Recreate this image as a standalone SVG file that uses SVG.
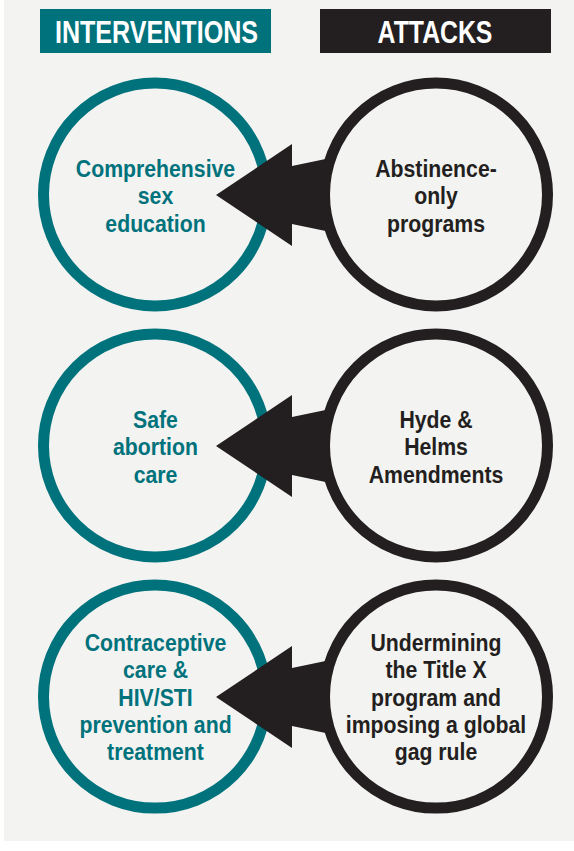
<svg xmlns="http://www.w3.org/2000/svg" width="574" height="851" viewBox="0 0 574 851">
<style>
.bg{fill:#f3f3f1}
.hdr{font-family:"Liberation Sans",Arial,sans-serif;font-weight:bold;font-size:31px;fill:#ffffff;text-anchor:middle}
.teal{fill:none;stroke:#00727c;stroke-width:11}
.dark{fill:none;stroke:#231f20;stroke-width:11}
.lbl{font-family:"Liberation Sans",Arial,sans-serif;font-weight:bold;font-size:24px;text-anchor:middle}
.lt{fill:#00727c}
.lk{fill:#231f20}
.arrow{fill:#231f20}
</style>
<rect x="0" y="0" width="574" height="851" fill="#ffffff"/>
<rect class="bg" x="4" y="0" width="570" height="841"/>

<g id="header-interventions">
<rect x="40" y="9" width="231" height="44" fill="#00727c"/>
<text class="hdr" transform="translate(156.5 0) scale(0.81 1)" x="0" y="43.3">INTERVENTIONS</text>
</g>
<g id="header-attacks">
<rect x="320" y="9" width="231" height="44" fill="#231f20"/>
<text class="hdr" transform="translate(435 0) scale(0.8 1)" x="0" y="43.3">ATTACKS</text>
</g>

<g id="node-comprehensive">
<circle class="teal" cx="155" cy="194.5" r="111.5"/>
<text class="lbl lt" transform="translate(155.5 0) scale(0.885 1)"><tspan x="0" y="176.7">Comprehensive</tspan><tspan x="0" y="204.5">sex</tspan><tspan x="0" y="232.3">education</tspan></text>
</g>
<g id="node-abstinence">
<circle class="dark" cx="436" cy="194.5" r="111.5"/>
<text class="lbl lk" transform="translate(436 0) scale(0.885 1)"><tspan x="0" y="176.7">Abstinence-</tspan><tspan x="0" y="204.5">only</tspan><tspan x="0" y="232.3">programs</tspan></text>
</g>

<g id="node-safe-abortion">
<circle class="teal" cx="155" cy="445.5" r="111.5"/>
<text class="lbl lt" transform="translate(155.5 0) scale(0.885 1)"><tspan x="0" y="427.7">Safe</tspan><tspan x="0" y="455.5">abortion</tspan><tspan x="0" y="483.3">care</tspan></text>
</g>
<g id="node-hyde-helms">
<circle class="dark" cx="436" cy="445.5" r="111.5"/>
<text class="lbl lk" transform="translate(436 0) scale(0.885 1)"><tspan x="0" y="427.7">Hyde &amp;</tspan><tspan x="0" y="455.5">Helms</tspan><tspan x="0" y="483.3">Amendments</tspan></text>
</g>

<g id="node-contraceptive">
<circle class="teal" cx="155" cy="696.6" r="111.5"/>
<text class="lbl lt" transform="translate(155.5 0) scale(0.885 1)"><tspan x="0" y="651">Contraceptive</tspan><tspan x="0" y="678.3">care &amp;</tspan><tspan x="0" y="705.6">HIV/STI</tspan><tspan x="0" y="732.9">prevention and</tspan><tspan x="0" y="760.2">treatment</tspan></text>
</g>
<g id="node-title-x">
<circle class="dark" cx="436" cy="696.6" r="111.5"/>
<text class="lbl lk" transform="translate(436 0) scale(0.885 1)"><tspan x="0" y="651">Undermining</tspan><tspan x="0" y="678.3">the Title X</tspan><tspan x="0" y="705.6">program and</tspan><tspan x="0" y="732.9">imposing a global</tspan><tspan x="0" y="760.2">gag rule</tspan></text>
</g>

<g id="connectors">
<polygon class="arrow" points="216,195 292,144 292,166 328,158.4 328,231.6 292,224 292,246"/>
<polygon class="arrow" points="216,446 292,395 292,417 328,409.4 328,482.6 292,475 292,497"/>
<polygon class="arrow" points="216,697 292,646 292,668 328,660.4 328,733.6 292,726 292,748"/>
</g>
</svg>
